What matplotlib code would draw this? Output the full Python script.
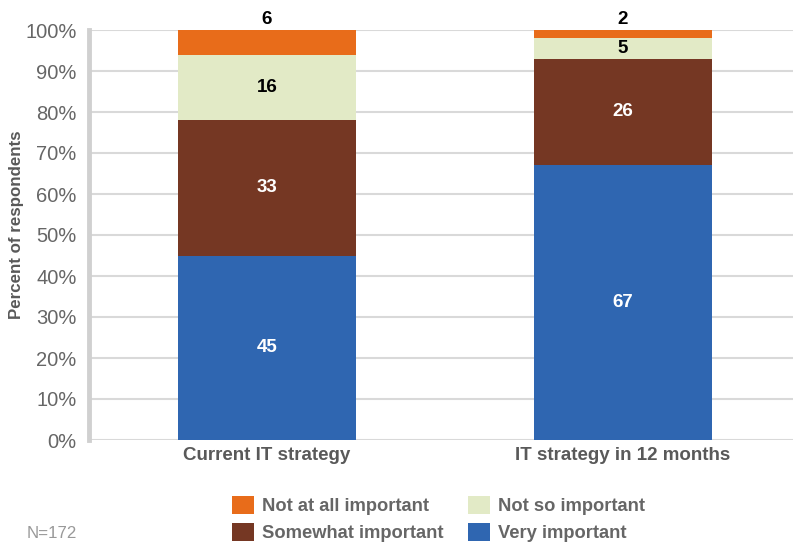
import numpy as np
import matplotlib.pyplot as plt
from matplotlib.patches import Patch

plt.rcParams['font.family'] = ['Liberation Sans', 'DejaVu Sans']

categories = ["Current IT strategy", "IT strategy in 12 months"]
very = [45, 67]
somewhat = [33, 26]
not_so = [16, 5]
not_at_all = [6, 2]

series = [
    ("Very important", very, "#2F66B1", "white"),
    ("Somewhat important", somewhat, "#753723", "white"),
    ("Not so important", not_so, "#E2EAC6", "black"),
    ("Not at all important", not_at_all, "#E86C1A", "black"),
]

fig = plt.figure(figsize=(7.93, 5.42), dpi=100)
ax = fig.add_axes([89 / 793, 1 - 440 / 542, 1 - 89 / 793, 410 / 542])

x = np.arange(len(categories))
bottom = np.zeros(len(categories))
for name, vals, color, tcolor in series:
    vals = np.array(vals, dtype=float)
    ax.bar(x, vals, 0.5, bottom=bottom, color=color, label=name, zorder=3)
    for i, v in enumerate(vals):
        if name == "Not at all important":
            ax.text(x[i], 100 + 0.5, f"{int(v)}", ha="center", va="bottom",
                    fontsize=13.5, fontweight="bold", color="black")
        else:
            ax.text(x[i], bottom[i] + v / 2, f"{int(v)}", ha="center", va="center",
                    fontsize=13.5, fontweight="bold", color=tcolor, zorder=4)
    bottom += vals

ax.set_xlim(-0.5, 1.478)
ax.set_ylim(0, 100)
ax.set_yticks(np.arange(0, 101, 10))
ax.set_yticklabels([f"{t}%" for t in range(0, 101, 10)], fontsize=14.5, color="#666666")
ax.set_xticks(x)
ax.set_xticklabels(categories, fontsize=13.5, fontweight="bold", color="#595959")
ax.tick_params(axis="y", length=0, pad=9)
ax.tick_params(axis="x", length=0, pad=5)
ax.yaxis.grid(True, color="#D9D9D9", linewidth=1.5, zorder=0)
ax.set_axisbelow(True)
for s in ["top", "right", "bottom"]:
    ax.spines[s].set_visible(False)
ax.spines["left"].set_color("#D0D0D0")
ax.spines["left"].set_linewidth(3.5)
ax.set_ylabel("Percent of respondents", fontsize=12.2, fontweight="bold", color="#595959")
ax.yaxis.set_label_coords(-72 / 704, (440 - 225) / 410)
ax.yaxis.label.set_va("center")

order = ["Not at all important", "Somewhat important", "Not so important", "Very important"]
colors = {n: c for n, _, c, _ in series}
handles = [Patch(facecolor=colors[n], label=n) for n in order]
leg = fig.legend(handles=handles, loc="center left", bbox_to_anchor=(221 / 793, 1 - 519 / 542),
                 ncol=2, frameon=False, handlelength=1.2, handleheight=1.15,
                 columnspacing=1.3, labelspacing=0.42, handletextpad=0.45,
                 borderaxespad=0.2, prop={"size": 13.2, "weight": "bold"})
for t in leg.get_texts():
    t.set_color("#666666")

fig.text(27 / 793, 1 - 533 / 542, "N=172", fontsize=12.2, color="#999999", va="center")

fig.savefig("out.png", dpi=100)
